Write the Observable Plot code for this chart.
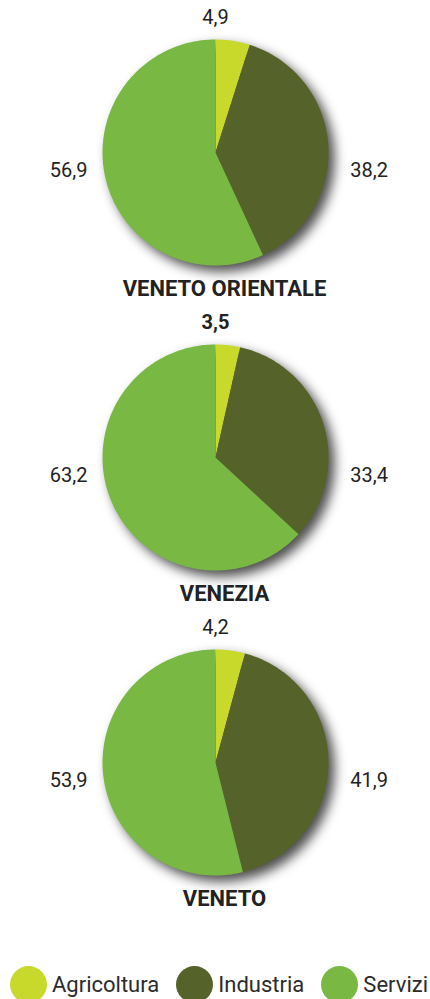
<!DOCTYPE html>
<html>
<head>
<meta charset="utf-8">
<script src="https://cdn.jsdelivr.net/npm/d3@7"></script>
<script src="https://cdn.jsdelivr.net/npm/@observablehq/plot@0.6"></script>
<style>
  html, body { margin: 0; padding: 0; background: #fff; }
  body { width: 430px; font-family: Roboto, "Noto Sans", sans-serif; }
  .slices { filter: drop-shadow(6px 6px 6px rgba(0,0,0,0.7)); }
  #legend { display: flex; justify-content: space-between; align-items: center;
            padding: 0 2px 0 10px; margin-top: 16px; height: 37px; }
  #legend .item { display: flex; align-items: center; gap: 5px; font-size: 22px; color: #2b2b2b; }
  #legend .dot { width: 37px; height: 37px; border-radius: 50%; display: inline-block; }
</style>
</head>
<body>
<div id="chart"></div>
<div id="legend"></div>
<script>
// ---- data ----
const regions = ["VENETO ORIENTALE", "VENEZIA", "VENETO"];
const sectors = ["Agricoltura", "Industria", "Servizi"];
const agricoltura = [4.9, 3.5, 4.2];
const industria = [38.2, 33.4, 41.9];
const servizi = [56.9, 63.2, 53.9];
const boldAgriLabel = [false, true, false];
const sectorColors = ["#c8d92c", "#556229", "#78b843"];

// ---- build slice outlines (unit circle, start at 12 o'clock, clockwise) ----
const series = [agricoltura, industria, servizi];
const slicePts = [];
const labels = [];
regions.forEach((region, ri) => {
  const vals = series.map(s => s[ri]);
  const total = d3.sum(vals);
  let acc = 0;
  vals.forEach((v, si) => {
    const a0 = acc / total * 2 * Math.PI;
    const a1 = (acc + v) / total * 2 * Math.PI;
    acc += v;
    const key = region + "|" + sectors[si];
    slicePts.push({region, sector: sectors[si], key, x: 0, y: 0});
    const n = Math.max(2, Math.ceil((a1 - a0) / (Math.PI / 180)));
    for (let k = 0; k <= n; ++k) {
      const a = a0 + (a1 - a0) * k / n;
      slicePts.push({region, sector: sectors[si], key, x: Math.sin(a), y: Math.cos(a)});
    }
    labels.push({region, sector: sectors[si], value: v, bold: si === 0 && boldAgriLabel[ri]});
  });
});

// label placement (layout only)
const labelX = {Agricoltura: 0, Industria: 1.36, Servizi: -1.3};
const labelY = {Agricoltura: 1.19, Industria: -0.16, Servizi: -0.16};
const fmt = v => d3.format(".1f")(v).replace(".", ",");

const R = 113; // px per unit
const facetH = 305;
const plot = Plot.plot({
  width: 430,
  height: facetH * 3 + 35,
  marginTop: 0, marginBottom: 35, marginLeft: 0, marginRight: 0,
  x: {domain: [-215 / R, 215 / R], axis: null},
  y: {domain: [-(facetH - 152) / R, 152 / R], axis: null},
  fy: {domain: regions, padding: 0, axis: null},
  color: {domain: sectors, range: sectorColors},
  style: {fontFamily: "Roboto, 'Noto Sans', sans-serif", overflow: "visible"},
  marks: [
    Plot.line(slicePts, {
      x: "x", y: "y", z: "key", fy: "region",
      fill: "sector", stroke: "none", curve: "linear-closed",
      className: "slices"
    }),
    Plot.text(labels.filter(d => !d.bold), {
      x: d => labelX[d.sector], y: d => labelY[d.sector], fy: "region",
      text: d => fmt(d.value), fontSize: 20, fill: "#222"
    }),
    Plot.text(labels.filter(d => d.bold), {
      x: d => labelX[d.sector], y: d => labelY[d.sector], fy: "region",
      text: d => fmt(d.value), fontSize: 20, fontWeight: "bold", fill: "#222"
    }),
    Plot.text(regions, {
      x: () => 0, y: () => -1.21, fy: d => d, dx: 9,
      text: d => d, fontSize: 22, fontWeight: "bold", fill: "#222"
    })
  ]
});
document.getElementById("chart").appendChild(plot);

// legend built from the plot's colour scale
const color = plot.scale("color");
const legend = d3.select("#legend");
color.domain.forEach((s, i) => {
  const item = legend.append("div").attr("class", "item");
  item.append("span").attr("class", "dot").style("background", color.range[i]);
  item.append("span").text(s);
});
</script>
</body>
</html>
